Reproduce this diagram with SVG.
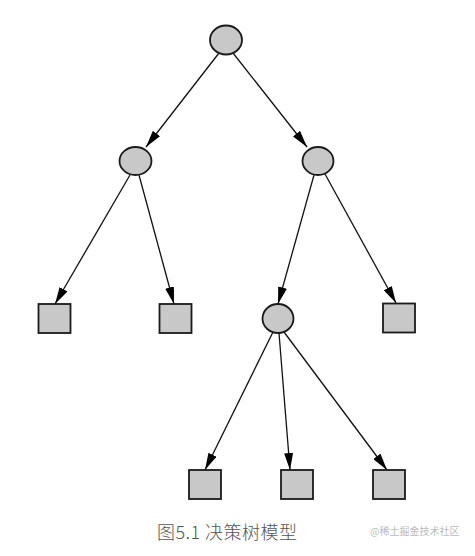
<svg xmlns="http://www.w3.org/2000/svg" width="475" height="556" viewBox="0 0 475 556">
<style>
.n{fill:#c8c8c8;stroke:#1a1a1a;stroke-width:1.8}
.e{stroke:#111;stroke-width:1.3;fill:none;marker-end:url(#ah)}
.cap{font-family:"Noto Sans CJK SC","Liberation Sans",sans-serif;font-size:18px;font-weight:300;fill:#555}
.wm{font-family:"Noto Sans CJK SC","Liberation Sans",sans-serif;font-size:10px;fill:#bbb}
</style>
<defs>
<marker id="ah" markerUnits="userSpaceOnUse" markerWidth="18" markerHeight="9" refX="17" refY="4.5" orient="auto">
<path d="M0,0 L17,4.5 L0,9 Z" fill="#000"/>
</marker>
</defs>
<rect width="475" height="556" fill="#fff"/>
<g id="connectors">
<line class="e" x1="219" y1="53" x2="146" y2="147"/>
<line class="e" x1="233" y1="53" x2="307" y2="147"/>
<line class="e" x1="130" y1="175" x2="55" y2="304"/>
<line class="e" x1="139" y1="175" x2="174" y2="304"/>
<line class="e" x1="314" y1="175" x2="278" y2="304"/>
<line class="e" x1="325" y1="174" x2="396" y2="303"/>
<line class="e" x1="273" y1="332" x2="205" y2="470"/>
<line class="e" x1="279" y1="333" x2="290" y2="470"/>
<line class="e" x1="284" y1="332" x2="387" y2="470"/>
</g>
<g id="root"><ellipse class="n" cx="226" cy="40" rx="16" ry="14.5"/></g>
<g id="mid-left"><ellipse class="n" cx="135.5" cy="161" rx="16" ry="14"/></g>
<g id="mid-right"><ellipse class="n" cx="318" cy="161" rx="15.5" ry="14"/></g>
<g id="leaf1"><rect class="n" x="38.5" y="304" width="32" height="29"/></g>
<g id="leaf2"><rect class="n" x="159.5" y="304" width="32" height="29"/></g>
<g id="inner3"><ellipse class="n" cx="278" cy="318.5" rx="15.5" ry="14.5"/></g>
<g id="leaf3"><rect class="n" x="383" y="303.5" width="32" height="29"/></g>
<g id="leaf4"><rect class="n" x="189" y="470" width="32" height="29"/></g>
<g id="leaf5"><rect class="n" x="281" y="470" width="32" height="29"/></g>
<g id="leaf6"><rect class="n" x="373" y="470" width="32" height="29"/></g>
<text class="cap" x="157" y="539" textLength="140">图5.1 决策树模型</text>
<text class="wm" x="370" y="535">@稀土掘金技术社区</text>
</svg>
